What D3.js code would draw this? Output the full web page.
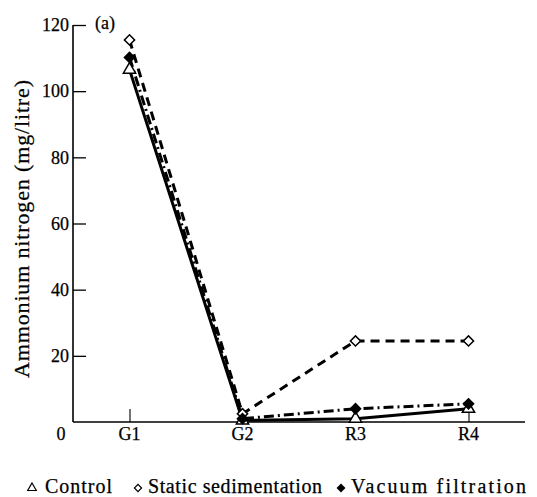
<!DOCTYPE html>
<html>
<head>
<meta charset="utf-8">
<script src="https://cdn.jsdelivr.net/npm/d3@7"></script>
<style>
  body { margin: 0; background: #fff; }
  svg text { font-family: "Liberation Serif", "Times New Roman", serif; fill: #000; stroke: #000; stroke-width: 0.25px; }
</style>
</head>
<body>
<div id="chart"></div>
<script>
'use strict';

// sampling points along the process
let stages = ['G1', 'G2', 'R3', 'R4'];

// ammonium nitrogen, mg/litre
let controlValues = [106.5, 0.5, 1, 4];
let staticValues = [115.5, 2.5, 24.5, 24.5];
let vacuumValues = [110.2, 1, 4, 5.5];

let yTicks = [20, 40, 60, 80, 100, 120];

let series = [
    {name: 'Control', values: controlValues, symbol: 'triangle', fill: '#fff', dash: null},
    {name: 'Static sedimentation', values: staticValues, symbol: 'diamond', fill: '#fff', dash: '9,6'},
    {name: 'Vacuum filtration', values: vacuumValues, symbol: 'diamond', fill: '#000', dash: '10,4,2,4'}
];

let width = 537, height = 497;
let margin = {top: 25, right: 12, bottom: 75, left: 73};

let svg = d3.select('#chart').append('svg')
    .attr('width', width)
    .attr('height', height);

let x = d3.scalePoint()
    .domain(stages)
    .range([margin.left, width - margin.right])
    .padding(0.5);

let y = d3.scaleLinear()
    .domain([0, 120])
    .range([height - margin.bottom, margin.top]);

let plotBottom = y(0);

// y axis, ticks pointing into the plot
let yAxis = svg.append('g')
    .attr('transform', 'translate(' + margin.left + ',0)')
    .call(d3.axisRight(y).tickValues(yTicks).tickSize(13).tickFormat(''));
yAxis.select('.domain').attr('d', 'M0,' + y(0) + 'V' + y(120)).attr('stroke-width', 1.6);
yAxis.selectAll('.tick line').attr('stroke-width', 1.3);

svg.selectAll('.y-label')
    .data(yTicks)
    .join('text')
    .attr('class', 'y-label')
    .attr('x', margin.left - 4)
    .attr('y', d => y(d))
    .attr('dy', '.35em')
    .attr('text-anchor', 'end')
    .style('font-size', '18px')
    .text(d => d);

// x axis, ticks pointing up
let xAxis = svg.append('g')
    .attr('transform', 'translate(0,' + plotBottom + ')')
    .call(d3.axisTop(x).tickSize(13).tickFormat(''));
xAxis.select('.domain').attr('d', 'M' + margin.left + ',0H' + (width - margin.right)).attr('stroke-width', 1.6);
xAxis.selectAll('.tick line').attr('stroke-width', 1.1);

svg.selectAll('.x-label')
    .data(stages)
    .join('text')
    .attr('class', 'x-label')
    .attr('x', d => x(d))
    .attr('y', plotBottom + 18)
    .attr('text-anchor', 'middle')
    .style('font-size', '18px')
    .text(d => d);

svg.append('text')
    .attr('x', margin.left - 12)
    .attr('y', plotBottom + 18)
    .attr('text-anchor', 'middle')
    .style('font-size', '18px')
    .text('0');

svg.append('text')
    .attr('x', 95)
    .attr('y', 29)
    .style('font-size', '18px')
    .text('(a)');

// axis title
svg.append('text')
    .attr('transform', 'translate(29,229)rotate(-90)')
    .attr('text-anchor', 'middle')
    .attr('textLength', 298)
    .attr('lengthAdjust', 'spacing')
    .style('font-size', '22px')
    .text('Ammonium nitrogen (mg/litre)');

// lines
let line = d3.line()
    .x((d, i) => x(stages[i]))
    .y(d => y(d));

svg.selectAll('.series-line')
    .data(series)
    .join('path')
    .attr('class', 'series-line')
    .attr('fill', 'none')
    .attr('stroke', '#000')
    .attr('stroke-width', 3)
    .attr('stroke-dasharray', d => d.dash)
    .attr('d', d => line(d.values));

// markers: diamonds are squares turned 45 degrees
function symbolPath(s, size) {
    if (s === 'triangle') {
        return d3.symbol().type(d3.symbolTriangle).size(size)();
    }
    return d3.symbol().type(d3.symbolSquare).size(size * 0.8)();
}
function symbolRotate(s) {
    return s === 'triangle' ? '' : 'rotate(45)';
}

series.forEach(function (s) {
    svg.selectAll(null)
        .data(s.values)
        .join('path')
        .attr('transform', (d, i) => 'translate(' + x(stages[i]) + ',' + y(d) + ')' + symbolRotate(s.symbol))
        .attr('d', symbolPath(s.symbol, 65))
        .attr('fill', s.fill)
        .attr('stroke', '#000')
        .attr('stroke-width', 1.5);
});

// legend
let legendX = [32, 138, 341];
let legendWidth = [67, 174, 175];
let legend = svg.selectAll('.legend')
    .data(series)
    .join('g')
    .attr('class', 'legend')
    .attr('transform', (d, i) => 'translate(' + legendX[i] + ',493)');

legend.append('path')
    .attr('d', d => symbolPath(d.symbol, 32))
    .attr('transform', d => 'translate(0,-5)' + symbolRotate(d.symbol))
    .attr('fill', d => d.fill)
    .attr('stroke', '#000')
    .attr('stroke-width', 1.2);

legend.append('text')
    .attr('x', (d, i) => i === 0 ? 13 : 10)
    .attr('y', 0)
    .attr('textLength', (d, i) => legendWidth[i])
    .attr('lengthAdjust', 'spacing')
    .style('font-size', '20px')
    .text(d => d.name);
</script>
</body>
</html>
